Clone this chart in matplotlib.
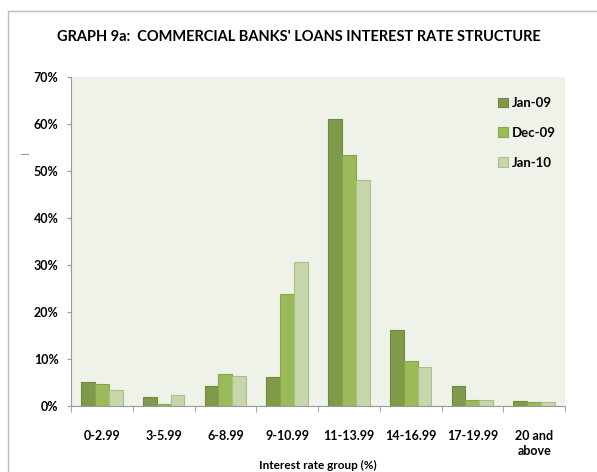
import matplotlib
matplotlib.use("Agg")
import numpy as np
from matplotlib import pyplot as plt
from matplotlib.lines import Line2D

plt.rcParams['font.family'] = ['Lato', 'DejaVu Sans']

# data (share of loans, %)
groups = ['0-2.99', '3-5.99', '6-8.99', '9-10.99', '11-13.99', '14-16.99', '17-19.99', '20 and\nabove']
jan09 = [5.2, 2.0, 4.3, 6.1, 61.1, 16.1, 4.2, 1.1]
dec09 = [4.7, 0.4, 6.8, 23.8, 53.5, 9.5, 1.2, 0.8]
jan10 = [3.4, 2.3, 6.4, 30.6, 48.0, 8.2, 1.2, 0.8]
series_names = ['Jan-09', 'Dec-09', 'Jan-10']
yticks = [0, 10, 20, 30, 40, 50, 60, 70]

colors = ['#7F9A48', '#9BBB59', '#C7D7AC']
edges = ['#6F8A3E', '#86A64A', '#A9BF85']

fig = plt.figure(figsize=(5.97, 4.72), dpi=100)
ax = fig.add_axes([71/597, 66/472, 494/597, 329/472])
ax.set_facecolor('#EFF2E8')

x = np.arange(len(groups))
w = 0.225
for i, vals in enumerate([jan09, dec09, jan10]):
    ax.bar(x + (i - 1) * w, vals, w, color=colors[i], edgecolor=edges[i],
           linewidth=0.8, label=series_names[i])

ax.set_xlim(-0.5, len(groups) - 0.5)
ax.set_ylim(0, 70)
ax.set_yticks(yticks)
ax.set_yticklabels(['%d%%' % v for v in yticks], fontsize=9, fontweight='bold')
ax.set_xticks(x)
ax.set_xticklabels(groups, fontsize=9, fontweight='bold', linespacing=1.3)
ax.set_xticks(np.arange(len(groups) + 1) - 0.5, minor=True)
ax.tick_params(axis='x', which='major', length=0, pad=17)
ax.tick_params(axis='x', which='minor', length=4, color='#999999', direction='out')
ax.tick_params(axis='y', length=3, color='#999999', pad=6)
for s in ['top', 'right']:
    ax.spines[s].set_visible(False)
for s in ['left', 'bottom']:
    ax.spines[s].set_color('#999999')
    ax.spines[s].set_linewidth(0.8)

fig.text((71 + 494 / 2) / 597, 1 - 465/472, 'Interest rate group (%)',
         ha='center', va='center', fontsize=8.5, fontweight='bold')

leg = ax.legend(loc='upper right', bbox_to_anchor=(1.005, 0.975), frameon=False,
                prop={'weight': 'bold', 'size': 9.5},
                handlelength=0.75, handleheight=0.75, handletextpad=0.3,
                labelspacing=1.35)

fig.text(0.5, 1 - 37/472, "GRAPH 9a:  COMMERCIAL BANKS' LOANS INTEREST RATE STRUCTURE",
         ha='center', va='center', fontsize=10.5, fontweight='bold')

# chart border (only top and left edges are visible in the reference)
fig.add_artist(Line2D([8/597, 8/597], [0, 1 - 11/472], color='#BBBBBB', lw=1.0,
                      transform=fig.transFigure))
fig.add_artist(Line2D([8/597, 1], [1 - 11/472, 1 - 11/472], color='#BBBBBB', lw=1.0,
                      transform=fig.transFigure))
fig.add_artist(Line2D([21/597, 28/597], [1 - 154/472, 1 - 154/472], color='#999999', lw=0.8,
                      transform=fig.transFigure))

fig.savefig('out.png', dpi=100)
